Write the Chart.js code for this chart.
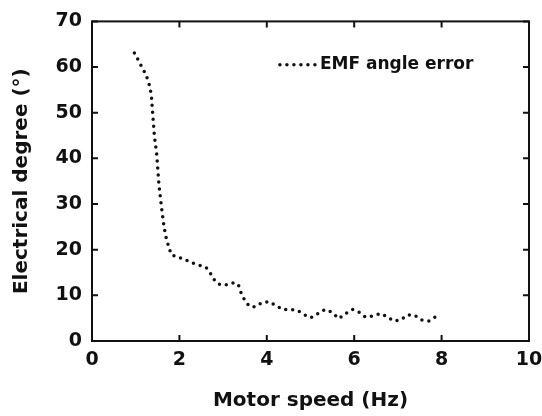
<!DOCTYPE html>
<html>
<head>
<meta charset="utf-8">
<script src="https://cdn.jsdelivr.net/npm/chart.js@4.4.0/dist/chart.umd.min.js"></script>
<style>
  html, body { margin: 0; padding: 0; background: #fff; }
  #wrap { width: 542px; height: 416px; }
</style>
</head>
<body>
<div id="wrap"><canvas id="emfChart" width="542" height="416"></canvas></div>
<script>
// values
var speeds = [0.97, 1.06, 1.14, 1.22, 1.29, 1.33, 1.36, 1.39, 1.43, 1.48, 1.53, 1.59, 1.65, 1.71, 1.77, 1.81,
    1.97, 2.13, 2.29, 2.45, 2.61, 2.70, 2.79, 2.93, 3.08, 3.25, 3.35, 3.41, 3.48, 3.60, 3.74, 3.89,
    4.06, 4.22, 4.37, 4.54, 4.70, 4.85, 5.01, 5.17, 5.33, 5.49, 5.65, 5.80, 5.96, 6.11, 6.26, 6.43,
    6.60, 6.76, 6.90, 7.06, 7.22, 7.37, 7.55, 7.71, 7.86];
var angleError = [63.1, 61.5, 60.0, 58.6, 56.9, 55.3, 53.7, 49.6, 44.7, 41.0, 34.4, 29.3, 24.9, 22.0, 20.3, 18.9,
    18.4, 17.8, 17.1, 16.6, 16.1, 15.0, 13.5, 12.3, 12.3, 12.8, 12.3, 10.6, 9.2, 7.6, 7.5, 8.4,
    8.6, 7.7, 6.9, 6.9, 6.7, 5.8, 5.1, 6.0, 6.9, 6.3, 4.9, 6.0, 6.9, 6.3, 5.2, 5.5,
    6.0, 5.3, 4.4, 4.6, 5.7, 5.7, 4.6, 4.4, 5.3];
var xTicks = [0, 2, 4, 6, 8, 10];
var yTicks = [0, 10, 20, 30, 40, 50, 60, 70];
var seriesName = 'EMF angle error';

var FONT = 'DejaVu Sans';

// frame, inward ticks on all four sides, and the legend inside the plot
Chart.register({
    id: 'frame-plugin',
    afterDraw: (chart) => {
        const ctx = chart.ctx;
        const a = chart.chartArea;
        const xs = chart.scales.x, ys = chart.scales.y;
        ctx.save();
        ctx.strokeStyle = '#111';
        ctx.lineWidth = 2;
        ctx.strokeRect(a.left, a.top, a.right - a.left, a.bottom - a.top);
        const tl = 6;
        ctx.beginPath();
        xTicks.forEach(v => {
            const px = xs.getPixelForValue(v);
            ctx.moveTo(px, a.bottom); ctx.lineTo(px, a.bottom - tl);
            ctx.moveTo(px, a.top); ctx.lineTo(px, a.top + tl);
        });
        yTicks.forEach(v => {
            const py = ys.getPixelForValue(v);
            ctx.moveTo(a.left, py); ctx.lineTo(a.left + tl, py);
            ctx.moveTo(a.right, py); ctx.lineTo(a.right - tl, py);
        });
        ctx.stroke();

        // legend
        const ly = ys.getPixelForValue(60.5);
        const lx = xs.getPixelForValue(4.3);
        ctx.lineWidth = 3.5;
        ctx.lineCap = 'round';
        ctx.setLineDash([0, 7]);
        ctx.strokeStyle = '#111';
        ctx.beginPath();
        ctx.moveTo(lx, ly);
        ctx.lineTo(lx + 36, ly);
        ctx.stroke();
        ctx.setLineDash([]);
        ctx.fillStyle = '#111';
        ctx.font = 'bold 17px "' + FONT + '"';
        ctx.textBaseline = 'middle';
        ctx.textAlign = 'left';
        ctx.fillText(seriesName, lx + 40, ly);
        ctx.restore();
    }
});

var ctx = document.getElementById('emfChart').getContext('2d');
var emfChart = new Chart(ctx, {
    type: 'line',
    data: {
        datasets: [{
            label: seriesName,
            data: speeds.map((s, i) => ({ x: s, y: angleError[i] })),
            borderColor: '#111',
            borderWidth: 3.5,
            borderDash: [0, 7],
            borderCapStyle: 'round',
            pointRadius: 0,
            tension: 0,
            fill: false
        }]
    },
    options: {
        responsive: false,
        animation: false,
        layout: { padding: { top: 20, right: 13, left: 0, bottom: 0 } },
        plugins: {
            legend: { display: false },
            tooltip: { enabled: false }
        },
        scales: {
            x: {
                type: 'linear',
                min: 0,
                max: 10,
                afterBuildTicks: (scale) => { scale.ticks = xTicks.map(v => ({ value: v })); },
                afterFit: (scale) => {
                    scale.height = 75;
                    scale.paddingLeft = 0;
                    scale.paddingRight = 0;
                },
                grid: { display: false, drawTicks: false },
                border: { display: false },
                ticks: {
                    color: '#111',
                    padding: 8,
                    maxRotation: 0,
                    font: { family: FONT, size: 19, weight: 'bold' }
                },
                title: {
                    display: true,
                    text: 'Motor speed (Hz)',
                    color: '#111',
                    padding: { top: 0, bottom: 3 },
                    font: { family: FONT, size: 20, weight: 'bold' }
                }
            },
            y: {
                min: 0,
                max: 70,
                afterBuildTicks: (scale) => { scale.ticks = yTicks.map(v => ({ value: v })); },
                afterFit: (scale) => { scale.width = 92; },
                grid: { display: false, drawTicks: false },
                border: { display: false },
                ticks: {
                    color: '#111',
                    padding: 10,
                    font: { family: FONT, size: 19, weight: 'bold' }
                },
                title: {
                    display: true,
                    text: 'Electrical degree (°)',
                    color: '#111',
                    padding: { top: 10, bottom: 0 },
                    font: { family: FONT, size: 20, weight: 'bold' }
                }
            }
        }
    }
});
</script>
</body>
</html>
